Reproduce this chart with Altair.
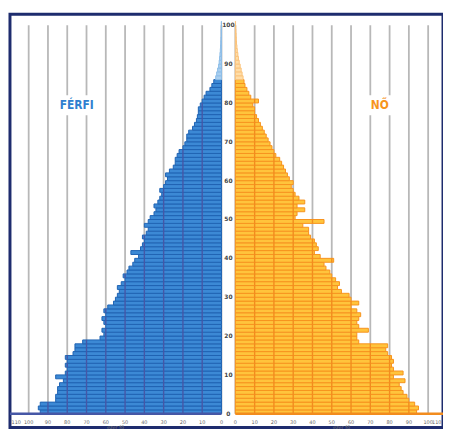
import altair as alt
import pandas as pd

# ---- data (thousand persons per single-year age) ----
ages = list(range(101))
male = [94, 95, 94, 86, 86, 85, 85, 84, 82, 86,
        81, 80, 81, 80, 81, 77, 76, 76, 72, 63,
        61, 62, 60, 61, 62, 60, 61, 59, 56, 55,
        54, 53, 54, 52, 50, 51, 49, 48, 46, 45,
        43, 47, 42, 41, 40, 41, 39, 38, 40, 38,
        37, 35, 34, 35, 33, 32, 31, 32, 30, 29,
        28, 29, 27, 25, 24, 24, 23, 22, 20, 19,
        18, 18, 17, 15, 14, 13, 12.5, 12, 12, 11,
        10, 9, 8, 6, 5, 4, 3, 2.5, 2, 1.5,
        1.2, 1, 0.8, 0.6, 0.5, 0.4, 0.3, 0.2, 0.2, 0.1,
        0.1]
female = [94, 95, 93, 90, 89, 87, 86, 85, 88, 82,
          87, 82, 81, 82, 81, 79, 78, 79, 64, 63,
          63, 69, 64, 63, 64, 65, 63, 60, 64, 60,
          59, 55, 53, 54, 52, 50, 49, 47, 46, 51,
          44, 41, 43, 42, 41, 39, 38, 38, 35, 46,
          31, 32, 36, 32, 36, 33, 31, 30, 29, 30,
          28, 27, 26, 25, 24, 23, 21, 20, 19, 18,
          17, 16, 15, 14, 13, 12, 11, 10, 10, 9,
          12, 8, 7, 6, 5, 4.5, 4, 3.5, 3, 2.5,
          2, 1.6, 1.3, 1, 0.8, 0.6, 0.5, 0.4, 0.3, 0.2,
          0.1]
grid_values = [0, 10, 20, 30, 40, 50, 60, 70, 80, 90, 100]
tick_values = [0, 10, 20, 30, 40, 50, 60, 70, 80, 90, 100]
edge_tick = 110
age_labels = [0, 10, 20, 30, 40, 50, 60, 70, 80, 90, 100]
side_names = ["FÉRFI", "NŐ"]
unit_label = "ezer fő"

# ---- layout constants (scale geometry) ----
GAP = 3.6
XMIN, XMAX = -113.3, 111.3
YMIN, YMAX = -3.56, 102.8
LIGHT_FROM = 86

xs = alt.Scale(domain=[XMIN, XMAX], nice=False, zero=False)
ys = alt.Scale(domain=[YMIN, YMAX], nice=False, zero=False)

# bars
rows = []
for a, m, f in zip(ages, male, female):
    light = a >= LIGHT_FROM
    rows.append(dict(age=a, age2=a + 1, x=-GAP, x2=-GAP - m, key="m_l" if light else "m"))
    rows.append(dict(age=a, age2=a + 1, x=GAP, x2=GAP + f, key="f_l" if light else "f"))
bars = pd.DataFrame(rows)

# separators inside bars (gridline continuation in bar colour)
sep = []
for a, m, f in zip(ages, male, female):
    for g in grid_values[1:]:
        if m > g + 0.5:
            sep.append(dict(age=a, age2=a + 1, x=-GAP - g, key="m"))
        if f > g + 0.5:
            sep.append(dict(age=a, age2=a + 1, x=GAP + g, key="f"))
sep = pd.DataFrame(sep)

grid = pd.DataFrame(
    [dict(x=-GAP - g, y=0, y2=100) for g in grid_values]
    + [dict(x=GAP + g, y=0, y2=100) for g in grid_values]
)

base_line = pd.DataFrame([
    dict(x=-GAP, x2=XMIN, y=0, key="m"),
    dict(x=GAP, x2=XMAX, y=0, key="f"),
])

ticks = pd.DataFrame(
    [dict(x=-GAP - t, y=-2.0, label=str(t)) for t in tick_values]
    + [dict(x=GAP + t, y=-2.0, label=str(t)) for t in tick_values]
)
edge_left = pd.DataFrame([dict(x=XMIN + 0.8, y=-2.0, label=str(edge_tick))])
edge_right = pd.DataFrame([dict(x=XMAX - 0.8, y=-2.0, label=str(edge_tick))])
units = pd.DataFrame([
    dict(x=-GAP - 55, y=-3.3, label=unit_label),
    dict(x=GAP + 55, y=-3.3, label=unit_label),
])
agelab = pd.DataFrame([dict(x=0, y=a, label=str(a)) for a in age_labels])

side = pd.DataFrame([
    dict(x=-78.7, y=79.4, label=side_names[0], key="m", bx=-90.0, bx2=-67.5),
    dict(x=78.5, y=79.4, label=side_names[1], key="f", bx=68.5, bx2=87.0),
])

fill_scale = alt.Scale(domain=["m", "f", "m_l", "f_l"],
                       range=["#3C89D5", "#FFC43C", "#A9CFF0", "#FFDDA6"])
stroke_scale = alt.Scale(domain=["m", "f", "m_l", "f_l"],
                         range=["#1F63B3", "#F7931E", "#8DBDE8", "#FBC27A"])
sep_scale = alt.Scale(domain=["m", "f"], range=["#4657A6", "#F28C1E"])
text_scale = alt.Scale(domain=["m", "f"], range=["#2F7FD0", "#F7941D"])

X = lambda f="x": alt.X(f"{f}:Q", scale=xs, axis=None)
Y = lambda f="y": alt.Y(f"{f}:Q", scale=ys, axis=None)

grid_layer = alt.Chart(grid).mark_rule(color="#B8B8B8", strokeWidth=1.8).encode(
    x=X(), y=Y(), y2="y2")

box_layer = alt.Chart(side).mark_rect(color="white").encode(
    x=X("bx"), x2="bx2", y=alt.Y("lo:Q", scale=ys, axis=None), y2="hi:Q"
).transform_calculate(lo="datum.y - 2.6", hi="datum.y + 2.6")

bar_layer = alt.Chart(bars).mark_rect(strokeWidth=1).encode(
    x=X(), x2="x2", y=Y("age"), y2="age2",
    fill=alt.Fill("key:N", scale=fill_scale, legend=None),
    stroke=alt.Stroke("key:N", scale=stroke_scale, legend=None),
)

sep_layer = alt.Chart(sep).mark_rule(strokeWidth=1.4).encode(
    x=X(), y=Y("age"), y2="age2",
    color=alt.Color("key:N", scale=sep_scale, legend=None),
)

base_layer = alt.Chart(base_line).mark_rule(strokeWidth=2.5).encode(
    x=X(), x2="x2", y=Y(),
    color=alt.Color("key:N", scale=sep_scale, legend=None),
)

tick_style = dict(fontSize=5, color="#666666", font="DejaVu Sans")
tick_layer = alt.Chart(ticks).mark_text(**tick_style).encode(
    x=X(), y=Y(), text="label:N")
edge_l_layer = alt.Chart(edge_left).mark_text(align="left", **tick_style).encode(
    x=X(), y=Y(), text="label:N")
edge_r_layer = alt.Chart(edge_right).mark_text(align="right", **tick_style).encode(
    x=X(), y=Y(), text="label:N")

unit_layer = alt.Chart(units).mark_text(fontSize=5, color="#777777", font="DejaVu Sans").encode(
    x=X(), y=Y(), text="label:N")

age_layer = alt.Chart(agelab).mark_text(fontSize=6, color="#444444", fontWeight="bold",
                                        font="DejaVu Sans").encode(
    x=X(), y=Y(), text="label:N")

side_layer = alt.Chart(side).mark_text(fontSize=12, fontWeight="bold",
                                       font="DejaVu Sans Condensed").encode(
    x=X(), y=Y(), text="label:N",
    color=alt.Color("key:N", scale=text_scale, legend=None),
)

chart = alt.layer(
    grid_layer, box_layer, bar_layer, sep_layer, base_layer,
    tick_layer, edge_l_layer, edge_r_layer, unit_layer, age_layer, side_layer
).resolve_scale(color="independent").properties(
    width=438, height=418,
    autosize=alt.AutoSizeParams(type="none"),
    padding={"left": 2, "top": 4, "right": 0, "bottom": 0},
    background="white",
).configure_view(stroke="#1E2C6E", strokeWidth=3)

chart.save("out.html", embed_options={"renderer": "svg", "actions": False})
